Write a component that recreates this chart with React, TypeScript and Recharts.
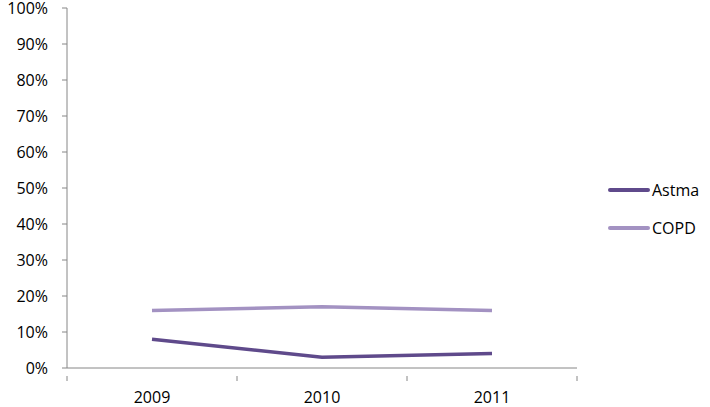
import { LineChart, Line, XAxis, YAxis } from 'recharts'

const years = ['2009', '2010', '2011']
const astma = [0.08, 0.03, 0.04]
const copd = [0.16, 0.17, 0.16]
const yTicks = [0, 0.1, 0.2, 0.3, 0.4, 0.5, 0.6, 0.7, 0.8, 0.9, 1]

const COLORS = { astma: '#5f4a8b', copd: '#a392c2' }
const AXIS = '#868686'
const FONT = '"Open Sans", "Liberation Sans", sans-serif'

const data = years.map((year, i) => ({
  pos: i + 0.5,
  year,
  Astma: astma[i],
  COPD: copd[i]
}))

// ticks at band edges (lines) and band centres (labels)
const xTicks = [0, 0.5, 1, 1.5, 2, 2.5, 3]

const XTick = (props: any) => {
  const { x, y, payload } = props
  const v = payload.value
  if (Number.isInteger(v)) {
    return <line x1={x} x2={x} y1={y} y2={y + 5} stroke={AXIS} />
  }
  const label = years[Math.floor(v)]
  return (
    <text x={x} y={y + 27} textAnchor="middle" fontSize={16} fill="#000" fontFamily={FONT}>
      {label}
    </text>
  )
}

const YTick = (props: any) => {
  const { x, y, payload } = props
  return (
    <text x={x} y={y + 6} textAnchor="end" fontSize={16} fill="#000" fontFamily={FONT}>
      {`${Math.round(payload.value * 100)}%`}
    </text>
  )
}

const legendItems = [
  { name: 'Astma', color: COLORS.astma, top: 180 },
  { name: 'COPD', color: COLORS.copd, top: 218 }
]

export default function App() {
  return (
    <div style={{ position: 'absolute', left: 0, top: 0, width: 710, height: 407, background: '#fff' }}>
      <LineChart width={710} height={407} data={data} margin={{ top: 8, right: 133, bottom: 0, left: 0 }}>
        <XAxis
          dataKey="pos"
          type="number"
          domain={[0, 3]}
          ticks={xTicks}
          interval={0}
          tick={<XTick />}
          tickLine={false}
          height={39}
          stroke={AXIS}
        />
        <YAxis
          domain={[0, 1]}
          ticks={yTicks}
          interval={0}
          width={67}
          tickSize={5}
          tickMargin={14}
          stroke={AXIS}
          tick={<YTick />}
        />
        <Line dataKey="Astma" stroke={COLORS.astma} strokeWidth={3.5} dot={false} isAnimationActive={false} />
        <Line dataKey="COPD" stroke={COLORS.copd} strokeWidth={3.5} dot={false} isAnimationActive={false} />
      </LineChart>
      {legendItems.map((item) => (
        <div
          key={item.name}
          style={{
            position: 'absolute',
            left: 608,
            top: item.top,
            height: 20,
            display: 'flex',
            alignItems: 'center',
            fontFamily: FONT,
            fontSize: 16,
            color: '#000'
          }}
        >
          <div style={{ width: 42, height: 4, background: item.color, borderRadius: 2, marginRight: 2 }} />
          <span>{item.name}</span>
        </div>
      ))}
    </div>
  )
}
